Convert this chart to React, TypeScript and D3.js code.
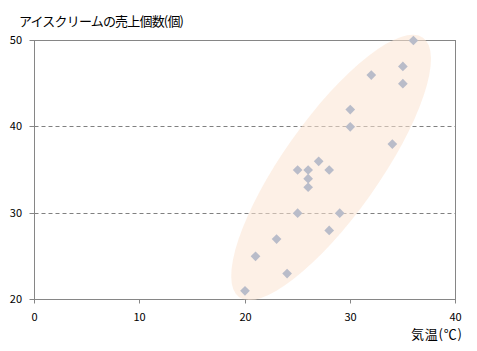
import React from "react";
import * as d3 from "d3";

const temperature = [36, 35, 32, 35, 30, 30, 34, 27, 25, 26, 28, 26, 26, 25, 29, 28, 23, 21, 24, 20];
const sales = [50, 47, 46, 45, 42, 40, 38, 36, 35, 35, 35, 34, 33, 30, 30, 28, 27, 25, 23, 21];
const xTicks = [0, 10, 20, 30, 40];
const yTicks = [20, 30, 40, 50];
const yTitle = "アイスクリームの売上個数(個)";
const xTitle = "気温(℃)";
// highlight ellipse (center in data units)
const ellipseCenter = { temp: 28.18, sales: 35.3 };

const W = 477;
const H = 351;
const FONT = "'Noto Sans CJK JP', 'Noto Sans', sans-serif";

export default function App() {
  const x = d3.scaleLinear().domain([0, 40]).range([34.5, 455.5]);
  const y = d3.scaleLinear().domain([20, 50]).range([299.5, 40.5]);
  const r = (v: number) => Math.round(v - 0.5) + 0.5;
  const axisColor = "#868686";
  const diamond = d3.symbol().type(d3.symbolDiamond2).size(60)();
  const left = x(0), right = x(40), top = y(50), bottom = y(20);

  return (
    <svg
      width={W}
      height={H}
      style={{ position: "absolute", left: 0, top: 0, background: "#fff" }}
      fontFamily={FONT}
    >
      <rect x={0} y={0} width={W} height={H} fill="#fff" />
      {/* gridlines */}
      {yTicks
        .filter((t) => t !== 20 && t !== 50)
        .map((t) => (
          <line
            key={"g" + t}
            x1={left}
            x2={right}
            y1={r(y(t))}
            y2={r(y(t))}
            stroke="#808080"
            strokeWidth={1}
            strokeDasharray="4,3"
          />
        ))}
      {/* plot border */}
      <rect x={left} y={top} width={right - left} height={bottom - top} fill="none" stroke={axisColor} strokeWidth={1} />
      {/* ellipse */}
      <ellipse
        cx={0}
        cy={0}
        rx={159}
        ry={48}
        fill="#fbe3d1"
        fillOpacity={0.55}
        transform={`translate(${x(ellipseCenter.temp)},${y(ellipseCenter.sales)}) rotate(-54.7)`}
      />
      {/* y ticks */}
      {yTicks.map((t) => (
        <g key={"y" + t}>
          <line x1={left - 5} x2={left} y1={r(y(t))} y2={r(y(t))} stroke={axisColor} />
          <text x={22} y={r(y(t))} dy="0.35em" textAnchor="end" fontSize={11} fill="#000">
            {t}
          </text>
        </g>
      ))}
      {/* x ticks */}
      {xTicks.map((t) => (
        <g key={"x" + t}>
          <line x1={r(x(t))} x2={r(x(t))} y1={bottom} y2={bottom + 4} stroke={axisColor} />
          <text x={r(x(t))} y={317} dy="0.35em" textAnchor="middle" fontSize={11} fill="#000">
            {t}
          </text>
        </g>
      ))}
      {/* points */}
      {temperature.map((t, i) => (
        <path
          key={"p" + i}
          d={diamond || ""}
          transform={`translate(${x(t)},${y(sales[i])})`}
          fill="#b9bcc9"
        />
      ))}
      <text x={19} y={21} dy="0.35em" fontSize={13} fill="#000" textLength={165} lengthAdjust="spacing">
        {yTitle}
      </text>
      <text x={411} y={334} dy="0.35em" fontSize={13} fill="#000" textLength={51} lengthAdjust="spacing">
        {xTitle}
      </text>
    </svg>
  );
}
